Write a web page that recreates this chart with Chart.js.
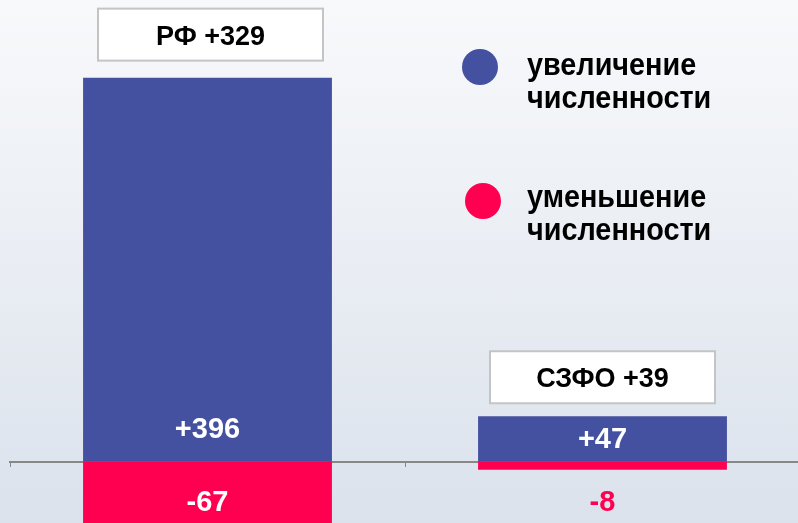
<!DOCTYPE html>
<html>
<head>
<meta charset="utf-8">
<script src="https://cdn.jsdelivr.net/npm/chart.js@4"></script>
<style>
  html, body { margin: 0; padding: 0; overflow: hidden; }
  body { width: 798px; height: 523px; background: linear-gradient(#f8f9fb, #dbe2ec); }
  #wrap { width: 800px; height: 523px; }
</style>
</head>
<body>
<div id="wrap"><canvas id="myChart"></canvas></div>
<script>
// data
const regions = ['РФ', 'СЗФО'];
const increase = [396, 47];
const decrease = [-67, -8];
const seriesNames = [['увеличение', 'численности'], ['уменьшение', 'численности']];
const blue = '#4450a0';
const red = '#ff0050';

const font = '"Liberation Sans", Arial, sans-serif';

// value labels, total boxes and legend
const labelsPlugin = {
  id: 'labels',
  afterDatasetsDraw(chart) {
    const ctx = chart.ctx;
    const up = chart.getDatasetMeta(0).data;
    const down = chart.getDatasetMeta(1).data;
    ctx.save();
    ctx.textAlign = 'center';
    ctx.textBaseline = 'alphabetic';

    up.forEach((bar, i) => {
      const y = Math.max(bar.base - 24, (bar.y + bar.base) / 2 + 9);
      ctx.font = 'bold 29px ' + font;
      ctx.fillStyle = '#fff';
      ctx.fillText('+' + increase[i], bar.x, y);

      // total box above the bar
      const total = increase[i] + decrease[i];
      const w = 225, h = 52;
      const gap = i == 0 ? 17 : 13;
      const bx = bar.x - w / 2 + (i == 0 ? 3 : 0);
      const by = bar.y - gap - h;
      ctx.fillStyle = '#fff';
      ctx.fillRect(bx, by, w, h);
      ctx.strokeStyle = '#c4c4c4';
      ctx.lineWidth = 2;
      ctx.strokeRect(bx, by, w, h);
      ctx.fillStyle = '#000';
      ctx.font = 'bold 27px ' + font;
      ctx.fillText(regions[i] + ' +' + total, bx + w / 2, by + 36);
    });

    ctx.font = 'bold 29px ' + font;
    down.forEach((bar, i) => {
      const y = bar.base + 49;
      ctx.fillStyle = bar.y > y ? '#fff' : red;
      ctx.fillText(String(decrease[i]), bar.x, y);
    });

    // legend
    const colors = [blue, red];
    const cx = [480, 483], cy = [67, 201];
    const base = [75, 207];
    ctx.textAlign = 'left';
    ctx.font = 'bold 32px ' + font;
    seriesNames.forEach((lines, k) => {
      ctx.beginPath();
      ctx.arc(cx[k], cy[k], 18, 0, Math.PI * 2);
      ctx.fillStyle = colors[k];
      ctx.fill();
      ctx.fillStyle = '#000';
      lines.forEach((t, j) => {
        ctx.save();
        ctx.translate(527, base[k] + j * 33);
        ctx.scale(0.9, 1);
        ctx.fillText(t, 0, 0);
        ctx.restore();
      });
    });
    ctx.restore();
  }
};

const ctx = document.getElementById('myChart');

new Chart(ctx, {
  type: 'bar',
  data: {
    labels: regions,
    datasets: [
      { label: seriesNames[0].join(' '), data: increase, backgroundColor: blue },
      { label: seriesNames[1].join(' '), data: decrease, backgroundColor: red }
    ]
  },
  options: {
    responsive: true,
    maintainAspectRatio: false,
    animation: false,
    layout: { padding: { left: 10, right: 0, top: 0, bottom: 0 } },
    datasets: { bar: { categoryPercentage: 1, barPercentage: 0.63 } },
    plugins: { legend: { display: false }, tooltip: { enabled: false } },
    scales: {
      x: {
        stacked: true,
        position: { y: 0 },
        ticks: { display: false },
        grid: { drawOnChartArea: false, drawTicks: true, tickLength: 4, color: '#888' },
        border: { display: true, color: '#888', width: 2 }
      },
      y: {
        stacked: true,
        display: false,
        min: -63,
        max: 476
      }
    }
  },
  plugins: [labelsPlugin]
});
</script>
</body>
</html>
